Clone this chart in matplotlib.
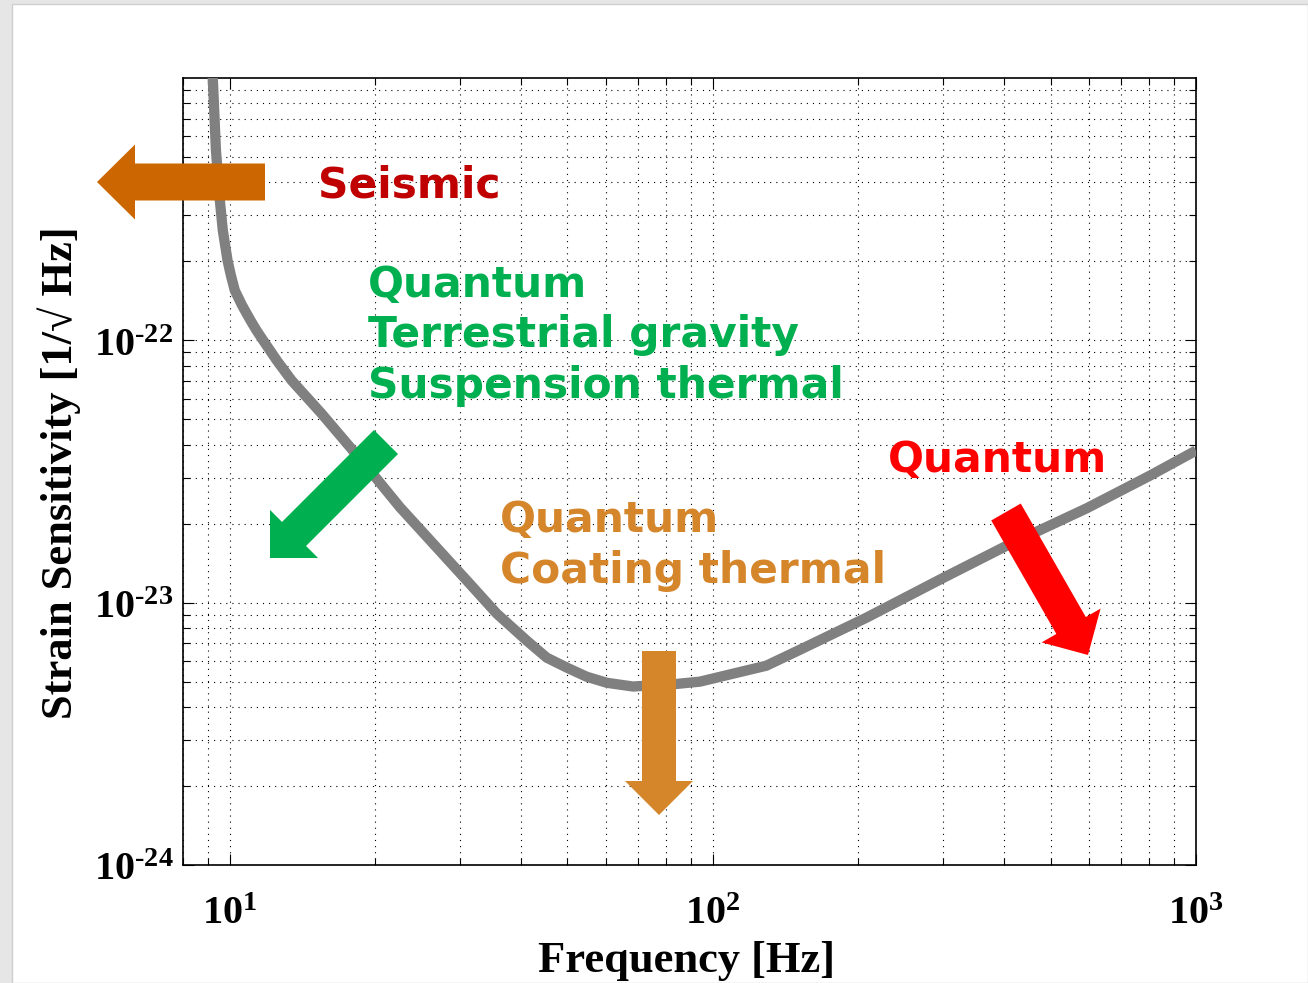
import numpy as np
import matplotlib
matplotlib.use('Agg')
from matplotlib import pyplot as plt
from matplotlib.patches import FancyArrow, Rectangle
from matplotlib.ticker import FixedLocator, FixedFormatter, NullFormatter, LogLocator

# noise curve
freq = [9.05, 9.22, 9.36, 9.535, 9.67, 9.89, 10.05, 10.24, 10.6, 11.04, 11.36,
        11.72, 12.5, 13.42, 15.48, 19.5, 22.5, 31.0, 35.7, 41.2, 45.3, 49.9,
        54.8, 60.3, 68.3, 84.1, 94, 110, 129, 151, 208, 299, 406, 594, 803,
        1000]
strain = [1.3e-21, 1.0e-21, 5.3e-22, 3.42e-22, 2.63e-22, 2.02e-22, 1.77e-22,
          1.55e-22, 1.36e-22, 1.19e-22, 1.09e-22, 1.0e-22, 8.4e-23, 7.04e-23,
          5.26e-23, 3.19e-23, 2.31e-23, 1.21e-23, 9.08e-24, 7.16e-24, 6.17e-24,
          5.65e-24, 5.22e-24, 4.95e-24, 4.79e-24, 4.9e-24, 5.0e-24, 5.36e-24,
          5.75e-24, 6.6e-24, 8.77e-24, 1.24e-23, 1.65e-23, 2.29e-23, 3.05e-23,
          3.8e-23]

xticks = [10, 100, 1000]
xtick_labels = [r'$\mathbf{10^{1}}$', r'$\mathbf{10^{2}}$', r'$\mathbf{10^{3}}$']
yticks = [1e-24, 1e-23, 1e-22]
ytick_labels = ['$\\mathbf{10^{\u201024}}$', '$\\mathbf{10^{\u201023}}$',
                '$\\mathbf{10^{\u201022}}$']

plt.rcParams['mathtext.fontset'] = 'custom'
plt.rcParams['mathtext.rm'] = 'Liberation Serif:bold'
plt.rcParams['mathtext.bf'] = 'Liberation Serif:bold'
plt.rcParams['mathtext.it'] = 'Liberation Serif:bold:italic'

W, H = 1308, 983
fig = plt.figure(figsize=(W/100, H/100), dpi=100, facecolor='#e6e6e6')
fig.patches.append(Rectangle((12/W, 0), 1-12/W, 1-4/H, transform=fig.transFigure,
                             facecolor='white', edgecolor='#cfcfcf', lw=1,
                             zorder=-5))

ax = fig.add_axes([183/W, 1-865/H, (1196-183)/W, (865-78)/H])
ax.loglog(freq, strain, color='#808080', lw=7.4, solid_capstyle='butt',
          solid_joinstyle='round', zorder=3)
ax.set_xlim(8, 1000)
ax.set_ylim(1e-24, 1e-21)

ax.xaxis.set_major_locator(FixedLocator(xticks))
ax.xaxis.set_major_formatter(FixedFormatter(xtick_labels))
ax.yaxis.set_major_locator(FixedLocator(yticks))
ax.yaxis.set_major_formatter(FixedFormatter(ytick_labels))
ax.xaxis.set_minor_locator(LogLocator(base=10, subs=np.arange(2, 10), numticks=20))
ax.yaxis.set_minor_locator(LogLocator(base=10, subs=np.arange(2, 10), numticks=20))
ax.xaxis.set_minor_formatter(NullFormatter())
ax.yaxis.set_minor_formatter(NullFormatter())

ax.grid(True, which='both', ls=(0, (1, 4.5)), color='k', lw=0.8)
ax.set_axisbelow(True)
ax.tick_params(which='both', direction='in', top=True, right=True, width=0.8)
ax.tick_params(which='major', length=8, labelsize=29)
ax.tick_params(which='minor', length=5)
ax.tick_params(axis='x', pad=20)
ax.tick_params(axis='y', pad=7)
for s in ax.spines.values():
    s.set_linewidth(1.2)

serif = ['Liberation Serif', 'DejaVu Serif']
ax.set_xlabel('Frequency [Hz]', fontsize=32, fontweight='bold', family=serif)
ax.set_ylabel('Strain Sensitivity [1/\u221a Hz]', fontsize=32, fontweight='bold',
              family=serif)
ax.xaxis.label.set_va('baseline')
ax.xaxis.set_label_coords((687-183)/1013, (865-972)/787)
ax.yaxis.label.set_va('center')
ax.yaxis.set_label_coords((59-183)/1013, (865-473)/787)


def px(x, y):
    # picture pixels -> inches from bottom left
    return x/100, (H-y)/100


def arrow(x0, y0, x1, y1, color, w=34, hw=68, hl=34):
    a, b = px(x0, y0)
    c, d = px(x1, y1)
    fig.add_artist(FancyArrow(a, b, c-a, d-b, width=w/100, head_width=hw/100,
                              head_length=hl/100, length_includes_head=True,
                              color=color, lw=0, transform=fig.dpi_scale_trans,
                              zorder=5))


def label(x, y, s, color):
    a, b = px(x, y)
    fig.text(a, b, s, transform=fig.dpi_scale_trans, fontsize=30.5,
             fontweight='bold', family='DejaVu Sans', color=color,
             ha='left', va='baseline', zorder=6)


arrow(265, 182, 97, 182, '#cc6600', w=37, hw=75, hl=38)
arrow(386, 442, 270, 558, '#00b050')
arrow(659, 651, 659, 815, '#d5862b')
arrow(1006, 512, 1088, 655, '#ff0000')

label(318, 197, 'Seismic', '#c00000')
label(368, 297, 'Quantum', '#00b050')
label(368, 347, 'Terrestrial gravity', '#00b050')
label(368, 398, 'Suspension thermal', '#00b050')
label(500, 532, 'Quantum', '#d5862b')
label(500, 583, 'Coating thermal', '#d5862b')
label(888, 472, 'Quantum', '#ff0000')

fig.savefig('out.png', dpi=100, facecolor=fig.get_facecolor())
